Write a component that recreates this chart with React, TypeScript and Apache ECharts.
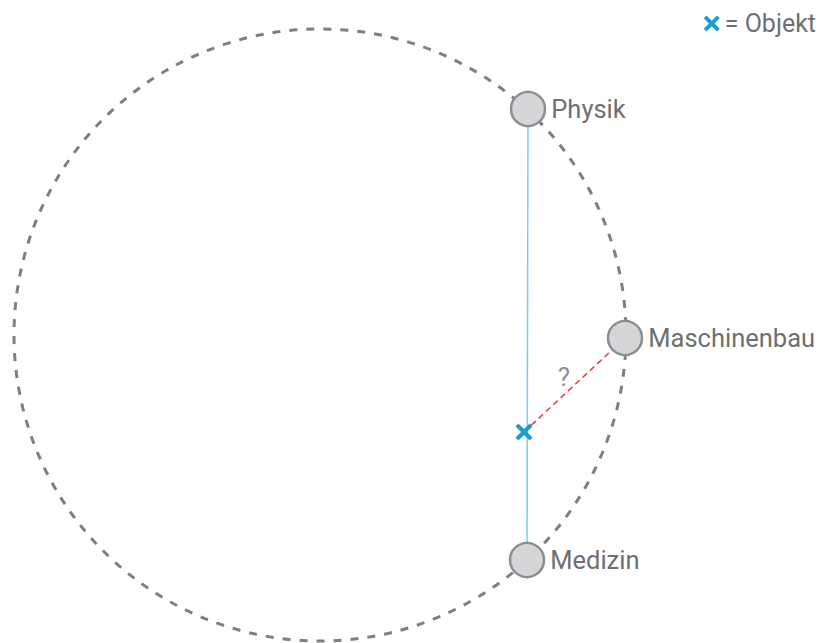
import React, { useEffect, useRef } from "react";
import * as echarts from "echarts";

// Node names and positions (chart units = pixels of the reference drawing)
const nodeNames = ["Physik", "Maschinenbau", "Medizin"];
const nodeX = [528, 625, 527];
const nodeY = [109, 338, 560];

// The object whose position is asked
const objectName = "Objekt";
const objectPos = [524, 432];

// Dashed circle: centre x, centre y, radius
const circle = [320, 335, 306];

// Question mark label position
const questionLabel = "?";
const questionPos = [564, 377];

const crossPath =
  "path://M2.4,0 L7,4.6 L11.6,0 L14,2.4 L9.4,7 L14,11.6 L11.6,14 L7,9.4 L2.4,14 L0,11.6 L4.6,7 L0,2.4 Z";

const FONT = "Roboto, 'Noto Sans', sans-serif";
const TEXT_COLOR = "#6e6f74";

export default function App() {
  const ref = useRef<HTMLDivElement>(null);
  useEffect(() => {
    if (!ref.current) return;
    const chart = echarts.init(ref.current, undefined, { renderer: "svg" });
    const nodes = nodeNames.map((n, i) => ({ name: n, value: [nodeX[i], nodeY[i]] }));
    const physik = [nodeX[0], nodeY[0]];
    const medizin = [nodeX[2], nodeY[2]];
    const masch = [nodeX[1], nodeY[1]];
    chart.setOption({
      animation: false,
      backgroundColor: "#ffffff",
      grid: { left: 0, right: 0, top: 0, bottom: 0 },
      xAxis: { type: "value", min: 0, max: 821, show: false },
      yAxis: { type: "value", min: 0, max: 643, inverse: true, show: false },
      legend: {
        right: 0,
        top: 6,
        data: [{ name: objectName, icon: crossPath }],
        itemWidth: 16,
        itemHeight: 16,
        itemGap: 6,
        formatter: "= {name}",
        textStyle: { color: TEXT_COLOR, fontSize: 25, fontFamily: FONT },
        selectedMode: false,
      },
      series: [
        {
          type: "custom",
          name: "circle",
          z: 1,
          silent: true,
          data: [circle],
          renderItem: (params: any, api: any) => {
            const c = api.coord([api.value(0), api.value(1)]);
            const s = api.size([api.value(2), api.value(2)]);
            return {
              type: "circle",
              shape: { cx: c[0], cy: c[1], r: Math.abs(s[0]) },
              style: { fill: "none", stroke: "#7e7f84", lineWidth: 3, lineDash: [8, 9] },
            };
          },
        },
        {
          type: "line",
          name: "axis",
          z: 2,
          silent: true,
          symbol: "none",
          data: [physik, medizin],
          lineStyle: { color: "#7fcbe9", width: 1.5 },
        },
        {
          type: "line",
          name: "distance",
          z: 2,
          silent: true,
          symbol: "none",
          data: [objectPos, masch],
          lineStyle: { color: "#e8383d", width: 1.5, type: [6, 4] },
        },
        {
          type: "scatter",
          name: "nodes",
          z: 3,
          silent: true,
          symbol: "circle",
          symbolSize: 34,
          data: nodes,
          itemStyle: { color: "#d5d6d8", borderColor: "#8c8d91", borderWidth: 2.5, opacity: 1 },
          label: {
            show: true,
            position: "right",
            distance: 5,
            formatter: "{b}",
            color: TEXT_COLOR,
            fontSize: 25.5,
            fontFamily: FONT,
          },
        },
        {
          type: "scatter",
          name: objectName,
          z: 4,
          silent: true,
          symbol: crossPath,
          symbolSize: 17,
          data: [objectPos],
          itemStyle: { color: "#1b9ad6", opacity: 1 },
        },
        {
          type: "scatter",
          name: "question",
          z: 4,
          silent: true,
          symbolSize: 0,
          data: [questionPos],
          label: {
            show: true,
            position: "inside",
            formatter: questionLabel,
            color: TEXT_COLOR,
            fontSize: 26,
            fontFamily: FONT,
          },
        },
      ],
    });
    return () => chart.dispose();
  }, []);
  return (
    <div
      ref={ref}
      style={{ position: "fixed", left: 0, top: 0, width: 821, height: 643, background: "#fff" }}
    />
  );
}
